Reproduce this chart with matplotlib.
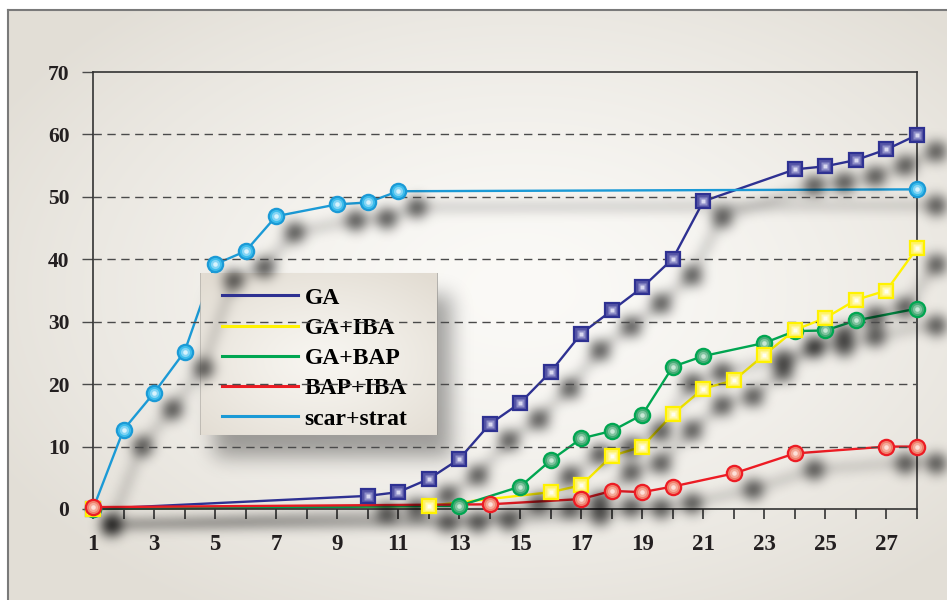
import numpy as np
import matplotlib
matplotlib.use('Agg')
import matplotlib.pyplot as plt
from matplotlib import transforms

# Шрифт: жирный Times-подобный
plt.rcParams['font.family'] = ['Liberation Serif', 'DejaVu Serif']
plt.rcParams['font.weight'] = 'bold'

W, H, DPI = 947, 600, 100

# Данные (пропуски = nan, линия соединяет соседние точки)
days = list(range(1, 29))
nan = np.nan
ga = [0, nan, nan, nan, nan, nan, nan, nan, nan, 2.1, 2.7, 4.8, 8.0, 13.6,
      17.0, 22.0, 28.1, 31.8, 35.5, 40.1, 49.3, nan, nan, 54.4, 54.9, 55.9, 57.6, 59.9]
ga_iba = [0, nan, nan, nan, nan, nan, nan, nan, nan, nan, nan, 0.5, nan, nan,
          nan, 2.7, 3.8, 8.5, 10.0, 15.2, 19.3, 20.6, 24.7, 28.7, 30.6, 33.5, 35.0, 41.8]
ga_bap = [0, nan, nan, nan, nan, nan, nan, nan, nan, nan, nan, nan, 0.5, nan,
          3.6, 7.8, 11.3, 12.5, 15.1, 22.8, 24.5, nan, 26.6, 28.5, 28.6, 30.2, nan, 32.1]
bap_iba = [0.3, nan, nan, nan, nan, nan, nan, nan, nan, nan, nan, nan, nan, 0.75,
           nan, nan, 1.6, 2.9, 2.7, 3.6, nan, 5.7, nan, 8.9, nan, nan, 10.0, 10.0]
scar_strat = [0, 12.7, 18.6, 25.2, 39.2, 41.3, 46.9, nan, 48.8, 49.1, 50.9, nan, nan, nan,
              nan, nan, nan, nan, nan, nan, nan, nan, nan, nan, nan, nan, nan, 51.2]

labels = ['GA', 'GA+IBA', 'GA+BAP', 'BAP+IBA', 'scar+strat']
values = [ga, ga_iba, ga_bap, bap_iba, scar_strat]
yticks = [0, 10, 20, 30, 40, 50, 60, 70]

# Стиль серий: линия, маркер, цвета (край, заливка, блик, центр), размер, z-порядок
styles = [
    dict(color='#2e3192', marker='s', ms=10, face='#5656a6', hi='#8e8ec8', ctr='#d8d8f0', z=5.0),
    dict(color='#fff200', marker='s', ms=10, face='#fff36a', hi='#fff9b0', ctr='#fffef0', z=5.3),
    dict(color='#00a651', marker='o', ms=11, face='#46ab76', hi='#80c49f', ctr='#c8e8d6', z=5.2),
    dict(color='#ed1c24', marker='o', ms=11, face='#f0806c', hi='#f5ab9a', ctr='#fde0d8', z=5.4),
    dict(color='#1b9ad6', marker='o', ms=11, face='#3dbdec', hi='#84d5f5', ctr='#d8f3fd', z=5.1),
]

pos = [93 / W, 1 - 509 / H, (917 - 93) / W, (509 - 72) / H]
leg_box = (200, 273, 437, 435)  # лево, верх, право, низ (пиксели)


def xy(vals):
    a = np.array(vals, dtype=float)
    m = ~np.isnan(a)
    return np.array(days)[m], a[m]


def blur(a, s):
    k = np.arange(-3 * s, 3 * s + 1)
    g = np.exp(-k ** 2 / (2.0 * s * s))
    g /= g.sum()
    a = np.apply_along_axis(lambda r: np.convolve(r, g, mode='same'), 0, a)
    a = np.apply_along_axis(lambda r: np.convolve(r, g, mode='same'), 1, a)
    return a


# --- тени серий: рисуем отдельно со смещением и размываем
fs = plt.figure(figsize=(W / DPI, H / DPI), dpi=DPI, facecolor='white')
axs = fs.add_axes(pos)
axs.set_xlim(1, 28)
axs.set_ylim(0, 70)
axs.axis('off')
off = transforms.offset_copy(axs.transData, fig=fs, x=18, y=-16, units='dots')
for vals, st in zip(values, styles):
    x, y = xy(vals)
    axs.plot(x, y, color='k', lw=3.5, alpha=0.35, transform=off, clip_on=False)
    axs.plot(x, y, ls='none', marker=st['marker'], ms=st['ms'] * 1.2, color='k',
             alpha=0.7, transform=off, clip_on=False)
fs.canvas.draw()
sh = 1 - np.asarray(fs.canvas.buffer_rgba())[..., 0].astype(float) / 255
plt.close(fs)
sh_series = np.clip(blur(sh, 6) * 0.95, 0, 1)

# тень легенды
lm = np.zeros((H, W))
lm[leg_box[1] + 22:leg_box[3] + 22, leg_box[0] + 14:leg_box[2] + 14] = 1
sh_leg = blur(lm, 10) * 0.35

# --- наложение: тень легенды, фон легенды, тени серий
yy, xx = np.mgrid[0:H, 0:W]
P = np.zeros((H, W, 3))
A = sh_leg.copy()
inside = (xx >= leg_box[0]) & (xx < leg_box[2]) & (yy >= leg_box[1]) & (yy < leg_box[3])
rl = np.sqrt(((xx - 320) / 170.0) ** 2 + ((yy - 360) / 110.0) ** 2)
tl = np.clip(rl, 0, 1)[..., None] ** 1.3
lc = np.array([247, 245, 240]) / 255 * (1 - tl) + np.array([226, 220, 210]) / 255 * tl
P[inside] = lc[inside]
A[inside] = 1
P = P * (1 - sh_series[..., None])
A = sh_series + A * (1 - sh_series)
rgb = np.where(A[..., None] > 0, P / np.maximum(A[..., None], 1e-6), 0)
overlay = np.dstack([np.clip(rgb, 0, 1), A])

# --- фон рисунка (радиальный градиент)
r = np.sqrt(((xx - 520) / 600.0) ** 2 + ((yy - 290) / 380.0) ** 2)
t = np.clip(r, 0, 1)[..., None] ** 1.4
bg = np.array([251, 250, 247]) / 255 * (1 - t) + np.array([226, 222, 214]) / 255 * t
bg[:10, :] = 1
bg[:, :8] = 1

fig = plt.figure(figsize=(W / DPI, H / DPI), dpi=DPI, facecolor='white')
bg_ax = fig.add_axes([0, 0, 1, 1], zorder=-1)
bg_ax.imshow(bg, extent=(0, W, H, 0), aspect='auto', interpolation='bilinear')
bg_ax.plot([8, 8], [10, H], color='#7a7a7a', lw=1.5)
bg_ax.plot([8, W], [10, 10], color='#7a7a7a', lw=1.5)
bg_ax.set_xlim(0, W)
bg_ax.set_ylim(H, 0)
bg_ax.axis('off')

ax = fig.add_axes(pos)
ax.patch.set_alpha(0)
ax.set_autoscale_on(False)
ax.set_xlim(1, 28)
ax.set_ylim(0, 70)

ax.imshow(overlay, extent=(0, 1, 0, 1), transform=fig.transFigure, aspect='auto',
          zorder=3, clip_on=False, interpolation='bilinear')
ax.set_xlim(1, 28)
ax.set_ylim(0, 70)

# линии и маркеры
handles = []
for lab, vals, st in zip(labels, values, styles):
    x, y = xy(vals)
    ln, = ax.plot(x, y, color=st['color'], lw=1.7, zorder=2, label=lab, clip_on=False)
    handles.append(ln)
    ax.plot(x, y, ls='none', marker=st['marker'], ms=st['ms'], mfc=st['face'],
            mec=st['color'], mew=1.6, zorder=st['z'], clip_on=False)
    ax.plot(x, y, ls='none', marker=st['marker'], ms=st['ms'] * 0.6, mfc=st['hi'],
            mec='none', zorder=st['z'] + 0.01, clip_on=False)
    ax.plot(x, y, ls='none', marker=st['marker'], ms=st['ms'] * 0.3, mfc=st['ctr'],
            mec='none', zorder=st['z'] + 0.02, clip_on=False)

# пунктирная сетка поверх легенды
for yv in yticks[1:-1]:
    ax.axhline(yv, color='#4a4a4a', lw=1.0, dashes=(6, 4), zorder=3.5)

leg = ax.legend(handles=handles, loc='upper left', frameon=False,
                bbox_to_anchor=(222 / W, 1 - 287 / H), bbox_transform=fig.transFigure,
                borderaxespad=0, borderpad=0, fontsize=17, handlelength=3.2,
                handletextpad=0.3, labelspacing=0.37)
leg.set_zorder(3.3)
for lh in leg.get_lines():
    lh.set_linewidth(2.2)

# оси и подписи
ax.set_xticks(days)
ax.set_xticklabels([str(d) if d % 2 else '' for d in days])
ax.set_yticks(yticks)
ax.tick_params(axis='x', direction='out', length=7, width=1.2, color='#333333',
               labelsize=16.5, pad=11, labelcolor='#231f20')
ax.tick_params(axis='y', direction='out', length=8, width=1.0, color='#4a4a4a',
               labelsize=15.5, pad=9, labelcolor='#231f20')
for sp in ax.spines.values():
    sp.set_color('#333333')
    sp.set_linewidth(1.2)

fig.savefig('out.png', dpi=DPI)
